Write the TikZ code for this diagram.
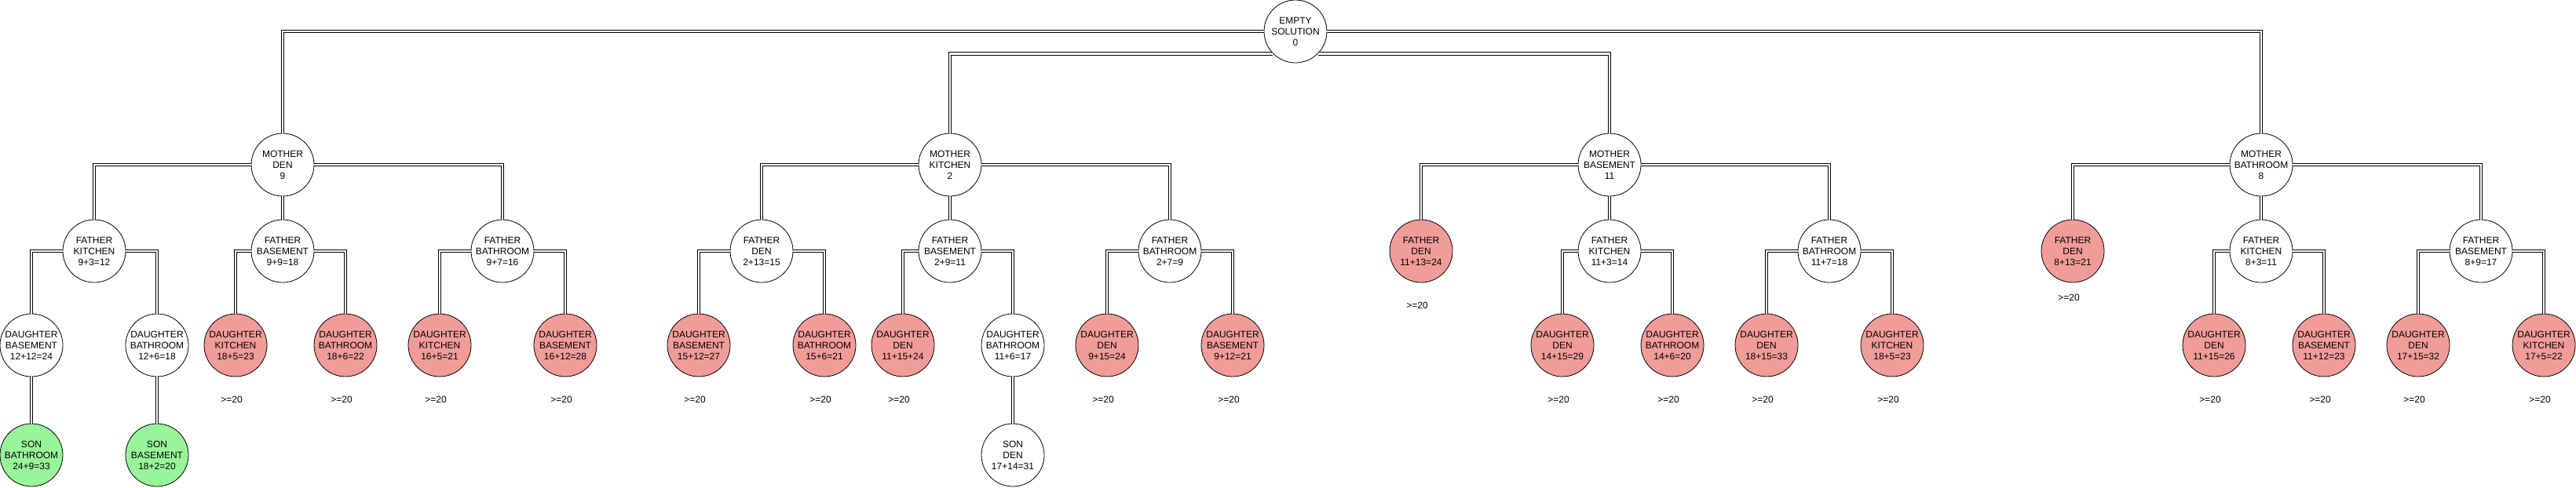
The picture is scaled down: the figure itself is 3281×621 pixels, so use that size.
\documentclass[tikz,border=0pt]{standalone}
\usepackage{fontspec}
\setmainfont{Liberation Sans}
\usepackage{tikz}
\usetikzlibrary{positioning}
\definecolor{badred}{RGB}{241,156,153}
\definecolor{goodgreen}{RGB}{153,245,153}
\tikzset{
  sol/.style = {circle, draw=black, line width=0.8pt, inner sep=0pt,
    minimum size=80pt, align=center, font=\fontsize{12}{14}\selectfont},
  sol_n/.style = {sol, fill=white},% partial solution, still open
  sol_r/.style = {sol, fill=badred},% pruned, bound reached
  sol_g/.style = {sol, fill=goodgreen},% complete solution
  dlink/.style = {draw=black, line width=1pt, double=white,
    double distance=2.7pt},
  bound/.style = {font=\fontsize{12}{14}\selectfont}
}

\begin{document}
\begin{tikzpicture}[x=1pt, y=-1pt]
\useasboundingbox (0,0) rectangle (3281,621);
    \node (R) [sol_n] at (1650, 40) {EMPTY\\SOLUTION\\0};
%
    \node (MD) [sol_n] at (360, 210) {MOTHER\\DEN\\9};
    \node (MK) [sol_n] at (1210, 210) {MOTHER\\KITCHEN\\2};
    \node (MB) [sol_n] at (2050, 210) {MOTHER\\BASEMENT\\11};
    \node (MBa) [sol_n] at (2880, 210) {MOTHER\\BATHROOM\\8};
%
\draw[dlink] (R.west) -| (MD);
\draw[dlink] (R.south west) -| (MK);
\draw[dlink] (R.south east) -| (MB);
\draw[dlink] (R.east) -| (MBa);
%
% mother den
    \node (DFK) [sol_n] at (120, 320) {FATHER\\KITCHEN\\9+3=12};
    \node (DFB) [sol_n] at (360, 320) {FATHER\\BASEMENT\\9+9=18};
    \node (DFBa) [sol_n] at (640, 320) {FATHER\\BATHROOM\\9+7=16};
\draw[dlink] (MD.west) -| (DFK);
\draw[dlink] (MD) -- (DFB);
\draw[dlink] (MD.east) -| (DFBa);
%
    \node (DFKdb) [sol_n] at (40, 440) {DAUGHTER\\BASEMENT\\12+12=24};
    \node (DFKdba) [sol_n] at (200, 440) {DAUGHTER\\BATHROOM\\12+6=18};
    \node (DFBdk) [sol_r] at (300, 440) {DAUGHTER\\KITCHEN\\18+5=23};
    \node (DFBdba) [sol_r] at (440, 440) {DAUGHTER\\BATHROOM\\18+6=22};
    \node (DFBadk) [sol_r] at (560, 440) {DAUGHTER\\KITCHEN\\16+5=21};
    \node (DFBadb) [sol_r] at (720, 440) {DAUGHTER\\BASEMENT\\16+12=28};
\draw[dlink] (DFK.west) -| (DFKdb);
\draw[dlink] (DFK.east) -| (DFKdba);
\draw[dlink] (DFB.west) -| (DFBdk);
\draw[dlink] (DFB.east) -| (DFBdba);
\draw[dlink] (DFBa.west) -| (DFBadk);
\draw[dlink] (DFBa.east) -| (DFBadb);
%
    \node (S1) [sol_g] at (40, 580) {SON\\BATHROOM\\24+9=33};
    \node (S2) [sol_g] at (200, 580) {SON\\BASEMENT\\18+2=20};
\draw[dlink] (DFKdb) -- (S1);
\draw[dlink] (DFKdba) -- (S2);
%
\node (b1) [bound] at (295, 509) {>=20};
\node (b2) [bound] at (435, 509) {>=20};
\node (b3) [bound] at (555, 509) {>=20};
\node (b4) [bound] at (715, 509) {>=20};
%
% mother kitchen
    \node (KFD) [sol_n] at (970, 320) {FATHER\\DEN\\2+13=15};
    \node (KFB) [sol_n] at (1210, 320) {FATHER\\BASEMENT\\2+9=11};
    \node (KFBa) [sol_n] at (1490, 320) {FATHER\\BATHROOM\\2+7=9};
\draw[dlink] (MK.west) -| (KFD);
\draw[dlink] (MK) -- (KFB);
\draw[dlink] (MK.east) -| (KFBa);
%
    \node (KFDdb) [sol_r] at (890, 440) {DAUGHTER\\BASEMENT\\15+12=27};
    \node (KFDdba) [sol_r] at (1050, 440) {DAUGHTER\\BATHROOM\\15+6=21};
    \node (KFBdd) [sol_r] at (1150, 440) {DAUGHTER\\DEN\\11+15+24};
    \node (KFBdba) [sol_n] at (1290, 440) {DAUGHTER\\BATHROOM\\11+6=17};
    \node (KFBadd) [sol_r] at (1410, 440) {DAUGHTER\\DEN\\9+15=24};
    \node (KFBadb) [sol_r] at (1570, 440) {DAUGHTER\\BASEMENT\\9+12=21};
\draw[dlink] (KFD.west) -| (KFDdb);
\draw[dlink] (KFD.east) -| (KFDdba);
\draw[dlink] (KFB.west) -| (KFBdd);
\draw[dlink] (KFB.east) -| (KFBdba);
\draw[dlink] (KFBa.west) -| (KFBadd);
\draw[dlink] (KFBa.east) -| (KFBadb);
%
    \node (S3) [sol_n] at (1290, 580) {SON\\DEN\\17+14=31};
\draw[dlink] (KFBdba) -- (S3);
%
\node (b5) [bound] at (885, 509) {>=20};
\node (b6) [bound] at (1045, 509) {>=20};
\node (b7) [bound] at (1145, 509) {>=20};
\node (b8) [bound] at (1405, 509) {>=20};
\node (b9) [bound] at (1565, 509) {>=20};
%
% mother basement
    \node (BFD) [sol_r] at (1810, 320) {FATHER\\DEN\\11+13=24};
    \node (BFK) [sol_n] at (2050, 320) {FATHER\\KITCHEN\\11+3=14};
    \node (BFBa) [sol_n] at (2330, 320) {FATHER\\BATHROOM\\11+7=18};
\draw[dlink] (MB.west) -| (BFD);
\draw[dlink] (MB) -- (BFK);
\draw[dlink] (MB.east) -| (BFBa);
%
    \node (BFKdd) [sol_r] at (1990, 440) {DAUGHTER\\DEN\\14+15=29};
    \node (BFKdba) [sol_r] at (2130, 440) {DAUGHTER\\BATHROOM\\14+6=20};
    \node (BFBadd) [sol_r] at (2250, 440) {DAUGHTER\\DEN\\18+15=33};
    \node (BFBadk) [sol_r] at (2410, 440) {DAUGHTER\\KITCHEN\\18+5=23};
\draw[dlink] (BFK.west) -| (BFKdd);
\draw[dlink] (BFK.east) -| (BFKdba);
\draw[dlink] (BFBa.west) -| (BFBadd);
\draw[dlink] (BFBa.east) -| (BFBadk);
%
\node (b10) [bound] at (1805, 389) {>=20};
\node (b11) [bound] at (1985, 509) {>=20};
\node (b12) [bound] at (2125, 509) {>=20};
\node (b13) [bound] at (2245, 509) {>=20};
\node (b14) [bound] at (2405, 509) {>=20};
%
% mother bathroom
    \node (AFD) [sol_r] at (2640, 320) {FATHER\\DEN\\8+13=21};
    \node (AFK) [sol_n] at (2880, 320) {FATHER\\KITCHEN\\8+3=11};
    \node (AFB) [sol_n] at (3160, 320) {FATHER\\BASEMENT\\8+9=17};
\draw[dlink] (MBa.west) -| (AFD);
\draw[dlink] (MBa) -- (AFK);
\draw[dlink] (MBa.east) -| (AFB);
%
    \node (AFKdd) [sol_r] at (2820, 440) {DAUGHTER\\DEN\\11+15=26};
    \node (AFKdb) [sol_r] at (2960, 440) {DAUGHTER\\BASEMENT\\11+12=23};
    \node (AFBdd) [sol_r] at (3080, 440) {DAUGHTER\\DEN\\17+15=32};
    \node (AFBdk) [sol_r] at (3240, 440) {DAUGHTER\\KITCHEN\\17+5=22};
\draw[dlink] (AFK.west) -| (AFKdd);
\draw[dlink] (AFK.east) -| (AFKdb);
\draw[dlink] (AFB.west) -| (AFBdd);
\draw[dlink] (AFB.east) -| (AFBdk);
%
\node (b15) [bound] at (2635, 379) {>=20};
\node (b16) [bound] at (2815, 509) {>=20};
\node (b17) [bound] at (2955, 509) {>=20};
\node (b18) [bound] at (3075, 509) {>=20};
\node (b19) [bound] at (3235, 509) {>=20};

\end{tikzpicture}
\end{document}
